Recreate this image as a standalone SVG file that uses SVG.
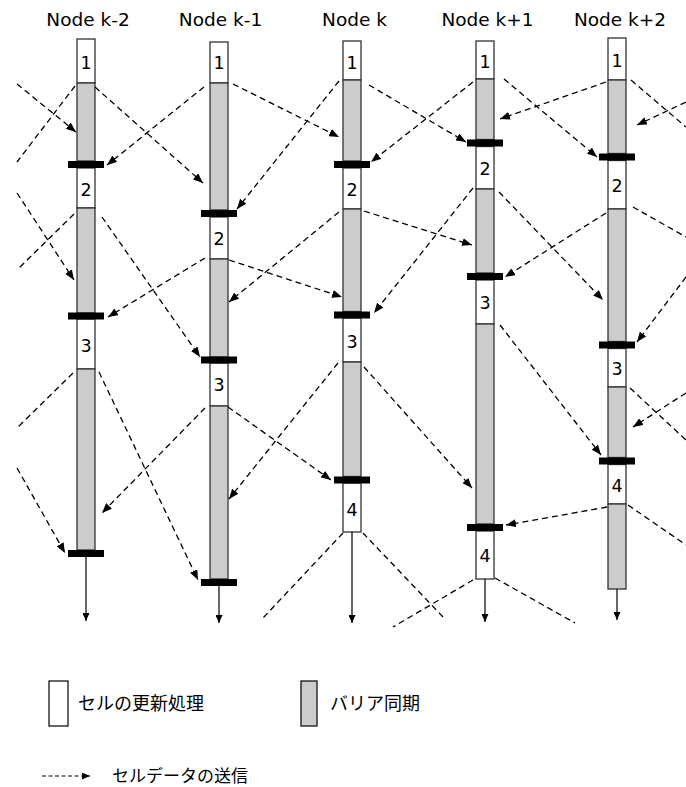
<svg xmlns="http://www.w3.org/2000/svg" width="686" height="787" viewBox="0 0 686 787">
  <style>
    .hdr { font-family: "DejaVu Sans", Verdana, sans-serif; font-size: 18.5px; fill: #000; text-anchor: middle; }
    .num { font-family: "DejaVu Sans", Verdana, sans-serif; font-size: 17.5px; fill: #000; text-anchor: middle; }
    .cell { fill: #fff; stroke: #333; stroke-width: 1.3; }
    .sync { fill: #cccccc; stroke: #333; stroke-width: 1.3; }
    .bar { fill: #000; }
    .down { stroke: #000; stroke-width: 1.2; fill: none; marker-end: url(#tri); }
    .msg { stroke: #000; stroke-width: 1.3; stroke-dasharray: 6 4; fill: none; }
    .msg.a { marker-end: url(#head); }
    .jp { font-family: "Noto Sans CJK JP", "Noto Sans", sans-serif; font-size: 18px; fill: #000; }
  </style>
  <defs>
    <marker id="head" viewBox="0 0 10 8" refX="10" refY="4" markerWidth="10" markerHeight="8" markerUnits="userSpaceOnUse" orient="auto">
      <path d="M0,0 L10,4 L0,8 Z" fill="#000"/>
    </marker>
    <marker id="tri" viewBox="0 0 8 7" refX="8" refY="3.5" markerWidth="8" markerHeight="7" markerUnits="userSpaceOnUse" orient="auto">
      <path d="M0,0 L8,3.5 L0,7 Z" fill="#000"/>
    </marker>
    <marker id="headS" viewBox="0 0 8 7" refX="8" refY="3.5" markerWidth="8" markerHeight="7" markerUnits="userSpaceOnUse" orient="auto">
      <path d="M0,0 L8,3.5 L0,7 Z" fill="#000"/>
    </marker>
  </defs>

  <!-- Node k-2 -->
  <g id="node-k-2">
    <text class="hdr" x="88" y="26">Node k-2</text>
    <rect class="cell" x="77" y="39" width="18" height="44"/>
    <rect class="sync" x="77" y="83" width="18" height="78"/>
    <rect class="cell" x="77" y="168" width="18" height="40"/>
    <rect class="sync" x="77" y="208" width="18" height="105"/>
    <rect class="cell" x="77" y="319" width="18" height="50"/>
    <rect class="sync" x="77" y="369" width="18" height="181"/>
    <rect class="bar" x="68" y="161" width="36" height="7"/>
    <rect class="bar" x="68" y="312.5" width="36" height="7"/>
    <rect class="bar" x="68" y="550" width="36" height="7"/>
    <text class="num" x="86" y="68.5">1</text>
    <text class="num" x="86" y="195.5">2</text>
    <text class="num" x="86" y="351.5">3</text>
    <line class="down" x1="86" y1="557" x2="86" y2="621"/>
  </g>

  <!-- Node k-1 -->
  <g id="node-k-1">
    <text class="hdr" x="220.5" y="26">Node k-1</text>
    <rect class="cell" x="210" y="42" width="18" height="41"/>
    <rect class="sync" x="210" y="83" width="18" height="127"/>
    <rect class="cell" x="210" y="217" width="18" height="42"/>
    <rect class="sync" x="210" y="259" width="18" height="98"/>
    <rect class="cell" x="210" y="363" width="18" height="43"/>
    <rect class="sync" x="210" y="406" width="18" height="173"/>
    <rect class="bar" x="201" y="210" width="36" height="7"/>
    <rect class="bar" x="201" y="356.5" width="36" height="7"/>
    <rect class="bar" x="201" y="579" width="36" height="7"/>
    <text class="num" x="219" y="69">1</text>
    <text class="num" x="219" y="245">2</text>
    <text class="num" x="219" y="391">3</text>
    <line class="down" x1="219" y1="586" x2="219" y2="623"/>
  </g>

  <!-- Node k -->
  <g id="node-k">
    <text class="hdr" x="354.5" y="26">Node k</text>
    <rect class="cell" x="343" y="41" width="18" height="39"/>
    <rect class="sync" x="343" y="80" width="18" height="81"/>
    <rect class="cell" x="343" y="168" width="18" height="41"/>
    <rect class="sync" x="343" y="209" width="18" height="102.5"/>
    <rect class="cell" x="343" y="318" width="18" height="44"/>
    <rect class="sync" x="343" y="362" width="18" height="114.5"/>
    <rect class="cell" x="343" y="483" width="18" height="49"/>
    <rect class="bar" x="334" y="161" width="36" height="7"/>
    <rect class="bar" x="334" y="311.5" width="36" height="7"/>
    <rect class="bar" x="334" y="476.5" width="36" height="7"/>
    <text class="num" x="352" y="68.5">1</text>
    <text class="num" x="352" y="196">2</text>
    <text class="num" x="352" y="347.5">3</text>
    <text class="num" x="352" y="516">4</text>
    <line class="down" x1="352" y1="532" x2="352" y2="623"/>
  </g>

  <!-- Node k+1 -->
  <g id="node-k+1">
    <text class="hdr" x="487.5" y="26">Node k+1</text>
    <rect class="cell" x="476" y="41" width="18" height="38"/>
    <rect class="sync" x="476" y="79" width="18" height="60.5"/>
    <rect class="cell" x="476" y="146.5" width="18" height="42.5"/>
    <rect class="sync" x="476" y="189" width="18" height="84"/>
    <rect class="cell" x="476" y="280" width="18" height="44"/>
    <rect class="sync" x="476" y="324" width="18" height="200"/>
    <rect class="cell" x="476" y="531" width="18" height="48"/>
    <rect class="bar" x="467" y="139.5" width="36" height="7"/>
    <rect class="bar" x="467" y="273" width="36" height="7"/>
    <rect class="bar" x="467" y="524" width="36" height="7"/>
    <text class="num" x="485" y="68">1</text>
    <text class="num" x="485" y="175">2</text>
    <text class="num" x="485" y="309">3</text>
    <text class="num" x="485" y="562">4</text>
    <line class="down" x1="485" y1="579" x2="485" y2="622"/>
  </g>

  <!-- Node k+2 -->
  <g id="node-k+2">
    <text class="hdr" x="620" y="26">Node k+2</text>
    <rect class="cell" x="608" y="38" width="18" height="42"/>
    <rect class="sync" x="608" y="80" width="18" height="73.5"/>
    <rect class="cell" x="608" y="160.5" width="18" height="48.5"/>
    <rect class="sync" x="608" y="209" width="18" height="132.5"/>
    <rect class="cell" x="608" y="348.5" width="18" height="38.5"/>
    <rect class="sync" x="608" y="387" width="18" height="70.5"/>
    <rect class="cell" x="608" y="464.5" width="18" height="39.5"/>
    <rect class="sync" x="608" y="504" width="18" height="85"/>
    <rect class="bar" x="599" y="153.5" width="36" height="7"/>
    <rect class="bar" x="599" y="341.5" width="36" height="7"/>
    <rect class="bar" x="599" y="457.5" width="36" height="7"/>
    <text class="num" x="617" y="66.5">1</text>
    <text class="num" x="617" y="192">2</text>
    <text class="num" x="617" y="375">3</text>
    <text class="num" x="617" y="491.5">4</text>
    <line class="down" x1="617" y1="589" x2="617" y2="620"/>
  </g>

  <!-- cell data transfers between neighbouring nodes -->
  <g id="connectors">
    <line class="msg a" x1="17" y1="84" x2="76" y2="132"/>
    <line class="msg a" x1="95" y1="87" x2="203" y2="183"/>
    <line class="msg a" x1="204" y1="87" x2="107" y2="165"/>
    <line class="msg a" x1="233" y1="84" x2="339" y2="137"/>
    <line class="msg a" x1="339" y1="81" x2="237" y2="209"/>
    <line class="msg a" x1="369" y1="85" x2="466" y2="142"/>
    <line class="msg a" x1="473" y1="82" x2="371" y2="162"/>
    <line class="msg a" x1="504" y1="79" x2="597" y2="157"/>
    <line class="msg a" x1="606" y1="82" x2="500" y2="119"/>
    <line class="msg a" x1="686" y1="102" x2="637" y2="125"/>
    <line class="msg a" x1="17" y1="193" x2="74" y2="280"/>
    <line class="msg a" x1="102" y1="217" x2="200" y2="357"/>
    <line class="msg a" x1="205" y1="258" x2="108" y2="317"/>
    <line class="msg a" x1="339" y1="212" x2="229" y2="302"/>
    <line class="msg a" x1="229" y1="260" x2="342" y2="297"/>
    <line class="msg a" x1="364" y1="211" x2="472" y2="245"/>
    <line class="msg a" x1="473" y1="188" x2="374" y2="313"/>
    <line class="msg a" x1="499" y1="192" x2="603" y2="300"/>
    <line class="msg a" x1="606" y1="213" x2="505" y2="277"/>
    <line class="msg a" x1="686" y1="277" x2="637" y2="342"/>
    <line class="msg a" x1="99" y1="372" x2="198" y2="580"/>
    <line class="msg a" x1="17" y1="468" x2="65" y2="553"/>
    <line class="msg a" x1="205" y1="408" x2="102" y2="513"/>
    <line class="msg a" x1="338" y1="363" x2="229" y2="499"/>
    <line class="msg a" x1="228" y1="407" x2="331" y2="480"/>
    <line class="msg a" x1="364" y1="367" x2="472" y2="488"/>
    <line class="msg a" x1="500" y1="325" x2="601" y2="455"/>
    <line class="msg a" x1="686" y1="393" x2="633" y2="427"/>
    <line class="msg a" x1="607" y1="507" x2="506" y2="525"/>
    <line class="msg" x1="75" y1="86" x2="17" y2="162"/>
    <line class="msg" x1="74" y1="214" x2="17" y2="270"/>
    <line class="msg" x1="73" y1="373" x2="17" y2="428"/>
    <line class="msg" x1="631" y1="80" x2="686" y2="127"/>
    <line class="msg" x1="633" y1="207" x2="686" y2="237"/>
    <line class="msg" x1="630" y1="388" x2="686" y2="440"/>
    <line class="msg" x1="628" y1="505" x2="686" y2="545"/>
    <line class="msg" x1="473" y1="580" x2="393" y2="627"/>
    <line class="msg" x1="495" y1="578" x2="575" y2="623"/>
    <line class="msg" x1="343" y1="533" x2="263" y2="618"/>
    <line class="msg" x1="363" y1="533" x2="443" y2="617"/>
  </g>

  <!-- legend -->
  <g id="legend">
    <rect x="49" y="681" width="19" height="45" fill="#fff" stroke="#000" stroke-width="1.2"/>
    <text class="jp" x="78" y="710">セルの更新処理</text>
    <rect x="301" y="681" width="16" height="45" fill="#cccccc" stroke="#000" stroke-width="1.2"/>
    <text class="jp" x="330" y="710">バリア同期</text>
    <line x1="42" y1="776" x2="90" y2="776" stroke="#000" stroke-width="1.2" stroke-dasharray="4 2.5" marker-end="url(#headS)"/>
    <text class="jp" x="112" y="782" style="font-size:17px">セルデータの送信</text>
  </g>
</svg>
